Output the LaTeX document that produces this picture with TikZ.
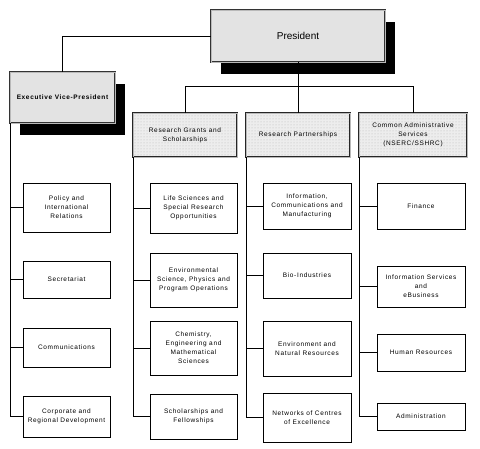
\documentclass[tikz,border=0pt]{standalone}
\usepackage{fontspec}
\setmainfont{Liberation Sans}
\newfontfamily\lab{Liberation Sans}[LetterSpace=10]
\usetikzlibrary{shadows,patterns}
\begin{document}
\begin{tikzpicture}[x=1pt,y=-1pt,
  conn/.style={draw=black, line width=0.8pt},
  topbox/.style={rectangle, draw=black!80, double=gray!55, double distance=0.8pt, line width=0.6pt,
    fill=gray!22, inner sep=0pt, align=center,
    drop shadow={shadow xshift=10pt, shadow yshift=-12pt, fill=black, opacity=1}},
  tierbox/.style={rectangle, draw=black!85, double=gray!55, double distance=0.9pt, line width=0.6pt,
    preaction={fill=gray!14}, pattern=dots, pattern color=gray!55, inner sep=0pt, align=center,
    font=\lab\fontsize{6.5}{9}\selectfont},
  unit/.style={rectangle, draw=black, line width=0.8pt, fill=white, inner sep=0pt, align=center,
    font=\lab\fontsize{6.5}{9}\selectfont}
]
\useasboundingbox (0,0) rectangle (480,449);

% top level
\node[topbox, minimum width=174pt, minimum height=52pt, font=\fontsize{10}{12}\selectfont] (pres) at (298,36) {President};
\node[topbox, minimum width=105pt, minimum height=51pt, font=\lab\bfseries\fontsize{6.5}{9}\selectfont] (evp) at (62.5,97.5) {Executive Vice-President};

% second tier
\node[tierbox, minimum width=104pt, minimum height=44pt] (rg) at (185,135) {Research Grants and\\Scholarships};
\node[tierbox, minimum width=104pt, minimum height=44pt] (rp) at (298,135) {Research Partnerships};
\node[tierbox, minimum width=108pt, minimum height=44pt] (ca) at (413,135) {Common Administrative\\Services\\(NSERC/SSHRC)};

% column 1
\node[unit, minimum width=87pt, minimum height=49pt] (pol) at (66.5,207.5) {Policy and\\International\\Relations};
\node[unit, minimum width=87pt, minimum height=37pt] (sec) at (66.5,279.5) {Secretariat};
\node[unit, minimum width=87pt, minimum height=39pt] (com) at (66.5,347.5) {Communications};
\node[unit, minimum width=87pt, minimum height=41pt] (cor) at (66.5,416.5) {Corporate and\\Regional Development};

% column 2
\node[unit, minimum width=87pt, minimum height=50pt] (life) at (193.5,208) {Life Sciences and\\Special Research\\Opportunities};
\node[unit, minimum width=87pt, minimum height=54pt] (env) at (193.5,280) {Environmental\\Science, Physics and\\Program Operations};
\node[unit, minimum width=87pt, minimum height=54pt] (chem) at (193.5,348) {Chemistry,\\Engineering and\\Mathematical\\Sciences};
\node[unit, minimum width=87pt, minimum height=45pt] (sch) at (193.5,416.5) {Scholarships and\\Fellowships};

% column 3
\node[unit, minimum width=88pt, minimum height=46pt] (info) at (307,206) {Information,\\Communications and\\Manufacturing};
\node[unit, minimum width=88pt, minimum height=45pt] (bio) at (307,275.5) {Bio-Industries};
\node[unit, minimum width=88pt, minimum height=55pt] (enr) at (307,348.5) {Environment and\\Natural Resources};
\node[unit, minimum width=88pt, minimum height=49pt] (net) at (307,417.5) {Networks of Centres\\of Excellence};

% column 4
\node[unit, minimum width=88pt, minimum height=46pt] (fin) at (421,206) {Finance};
\node[unit, minimum width=88pt, minimum height=41pt] (isv) at (421,286.5) {Information Services\\and\\eBusiness};
\node[unit, minimum width=88pt, minimum height=37pt] (hr) at (421,352.5) {Human Resources};
\node[unit, minimum width=88pt, minimum height=27pt] (adm) at (421,416.5) {Administration};

% connectors
\coordinate (bar) at (298,86);
\draw[conn] (pres.west) -| (evp.north);
\draw[conn] (pres.south) -- (bar);
\draw[conn] (bar) -| (rg.north);
\draw[conn] (bar) -- (rp.north);
\draw[conn] (bar) -| (ca.north);

\foreach \p/\c in {evp/pol, evp/sec, evp/com, evp/cor,
                   rg/life, rg/env, rg/chem, rg/sch,
                   rp/info, rp/bio, rp/enr, rp/net,
                   ca/fin, ca/isv, ca/hr, ca/adm}
  \draw[conn] ([xshift=0.5pt]\p.south west) |- (\c.west);
\end{tikzpicture}
\end{document}
